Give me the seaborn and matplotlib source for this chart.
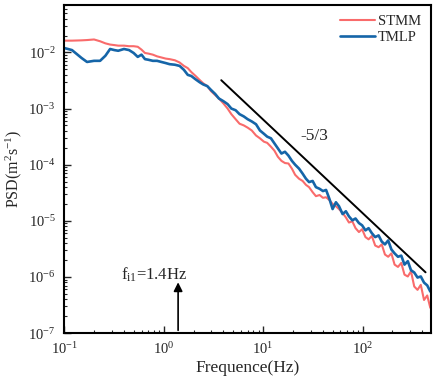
import numpy as np
import pandas as pd
import matplotlib
matplotlib.use('Agg')
import matplotlib.pyplot as plt
import seaborn as sns
from matplotlib.ticker import LogLocator, LogFormatterSciNotation, NullFormatter

# Frequencies (Hz) shared by both spectra
freq = [0.10, 0.12, 0.15, 0.17, 0.20, 0.23, 0.26, 0.29, 0.32, 0.35,
        0.40, 0.45, 0.50, 0.55, 0.60, 0.65, 0.70, 0.78, 0.86, 0.95,
        1.05, 1.15, 1.3, 1.45, 1.6, 1.75, 1.9, 2.1, 2.3, 2.5,
        2.75, 3.0, 3.3, 3.6, 4.0, 4.4, 4.8, 5.3, 5.8, 6.4,
        7.0, 7.7, 8.5, 9.3,
        10.2, 11.0, 12.0, 13.0, 14.1, 15.3, 16.6, 18.0, 19.5, 21,
        23, 25, 27, 29, 31.5, 34, 37, 40, 43, 46.5,
        50, 54, 58, 63, 68, 73, 79, 85, 92, 99,
        107, 115, 124, 134, 145, 156, 168, 181, 195, 210,
        227, 245, 264, 285, 307, 331, 357, 385, 415, 447,
        480]

# PSD of STMM (red)
psd_stmm = [1.62e-2, 1.62e-2, 1.64e-2, 1.66e-2, 1.70e-2, 1.58e-2, 1.45e-2, 1.38e-2, 1.35e-2, 1.32e-2,
            1.32e-2, 1.29e-2, 1.29e-2, 1.26e-2, 1.12e-2, 9.77e-3, 9.55e-3, 9.12e-3, 8.51e-3, 8.13e-3,
            7.76e-3, 7.59e-3, 7.24e-3, 6.61e-3, 5.75e-3, 5.25e-3, 4.47e-3, 3.80e-3, 3.24e-3, 2.82e-3,
            2.51e-3, 2.04e-3, 1.74e-3, 1.51e-3, 1.23e-3, 1.00e-3, 7.94e-4, 6.46e-4, 5.37e-4, 5.01e-4,
            4.57e-4, 4.07e-4, 3.31e-4, 2.95e-4,
            2.57e-4, 2.45e-4, 2.09e-4, 1.78e-4, 1.38e-4, 1.17e-4, 1.07e-4, 1.05e-4, 8.51e-5, 6.61e-5,
            5.62e-5, 5.13e-5, 4.37e-5, 3.98e-5, 3.24e-5, 2.75e-5, 2.88e-5, 2.57e-5, 2.63e-5, 2.34e-5,
            2.00e-5, 1.82e-5, 1.62e-5, 1.38e-5, 1.15e-5, 9.33e-6, 9.77e-6, 7.41e-6, 6.31e-6, 7.08e-6,
            5.13e-6, 4.68e-6, 5.37e-6, 3.63e-6, 3.39e-6, 3.80e-6, 2.51e-6, 2.29e-6, 2.63e-6, 1.66e-6,
            1.51e-6, 1.78e-6, 1.10e-6, 1.02e-6, 1.26e-6, 6.76e-7, 5.89e-7, 7.24e-7, 3.89e-7, 4.68e-7,
            2.82e-7]

# PSD of TMLP (blue)
psd_tmlp = [1.20e-2, 1.10e-2, 7.94e-3, 6.76e-3, 7.08e-3, 7.08e-3, 8.71e-3, 1.15e-2, 1.10e-2, 1.07e-2,
            1.15e-2, 1.10e-2, 9.77e-3, 8.32e-3, 9.12e-3, 7.59e-3, 7.41e-3, 7.08e-3, 7.08e-3, 6.76e-3,
            6.46e-3, 6.17e-3, 6.03e-3, 5.75e-3, 4.90e-3, 3.98e-3, 3.80e-3, 3.31e-3, 2.95e-3, 2.69e-3,
            2.51e-3, 2.14e-3, 1.82e-3, 1.51e-3, 1.35e-3, 1.20e-3, 1.00e-3, 9.33e-4, 7.94e-4, 7.24e-4,
            6.46e-4, 5.89e-4, 5.25e-4, 4.07e-4,
            3.55e-4, 3.16e-4, 2.95e-4, 2.40e-4, 1.95e-4, 1.58e-4, 1.70e-4, 1.45e-4, 1.17e-4, 1.00e-4,
            8.51e-5, 6.92e-5, 5.62e-5, 4.90e-5, 5.13e-5, 3.98e-5, 3.72e-5, 3.39e-5, 3.55e-5, 2.45e-5,
            1.62e-5, 2.14e-5, 1.82e-5, 1.32e-5, 1.48e-5, 1.20e-5, 1.02e-5, 1.10e-5, 9.12e-6, 8.32e-6,
            6.76e-6, 7.41e-6, 6.03e-6, 5.13e-6, 5.50e-6, 4.27e-6, 3.80e-6, 4.47e-6, 3.09e-6, 2.63e-6,
            2.29e-6, 2.40e-6, 1.66e-6, 1.91e-6, 1.32e-6, 1.20e-6, 9.77e-7, 1.02e-6, 7.94e-7, 7.08e-7,
            5.50e-7]

# -5/3 reference line end points
slope_f = [3.8, 430]
slope_psd = [3.2e-3, 1.21e-6]

# first intrinsic frequency marker
f_i1 = 1.4
f_i1_top = 9e-7

sns.set_style('ticks')
plt.rcParams['font.family'] = ['Liberation Serif', 'DejaVu Serif']
plt.rcParams['mathtext.fontset'] = 'custom'
plt.rcParams['mathtext.rm'] = 'Liberation Serif'
plt.rcParams['mathtext.it'] = 'Liberation Serif:italic'
plt.rcParams['mathtext.bf'] = 'Liberation Serif:bold'

fig = plt.figure(figsize=(4.36, 3.82), dpi=100)
ax = fig.add_axes([0.147, 0.128, 0.842, 0.859])

sns.lineplot(x=freq, y=psd_stmm, ax=ax, color='#F96B6B', lw=1.5, label='STMM',
             estimator=None, sort=False)
sns.lineplot(x=freq, y=psd_tmlp, ax=ax, color='#1565A8', lw=1.9, label='TMLP',
             estimator=None, sort=False)
ax.plot(slope_f, slope_psd, color='black', lw=1.4)

ax.set_xscale('log')
ax.set_yscale('log')
ax.set_xlim(0.1, 490)
ax.set_ylim(1e-7, 7e-2)

ax.xaxis.set_major_locator(LogLocator(base=10))
ax.yaxis.set_major_locator(LogLocator(base=10))
ax.xaxis.set_minor_locator(LogLocator(base=10, subs=np.arange(2, 10), numticks=20))
ax.yaxis.set_minor_locator(LogLocator(base=10, subs=np.arange(2, 10), numticks=20))
ax.xaxis.set_major_formatter(LogFormatterSciNotation())
ax.yaxis.set_major_formatter(LogFormatterSciNotation())
ax.xaxis.set_minor_formatter(NullFormatter())
ax.yaxis.set_minor_formatter(NullFormatter())

ax.tick_params(which='major', direction='in', length=5, width=1.0, labelsize=10.5,
               top=False, right=False, pad=6)
ax.tick_params(which='minor', direction='in', length=2.5, width=0.8, top=False, right=False)
for s in ax.spines.values():
    s.set_linewidth(1.5)
    s.set_color('black')

ax.set_xlabel('Frequence(Hz)', fontsize=12.5, labelpad=2)
ax.set_ylabel('PSD(m$^2$s$^{-1}$)', fontsize=11.5, labelpad=3)

ax.text(33, 3.2e-4, '-5/3', fontsize=12.5, ha='center', va='center')
ax.annotate('', xy=(f_i1, f_i1_top), xytext=(f_i1, 1e-7),
            arrowprops=dict(arrowstyle='-|>', color='black', lw=1.2, mutation_scale=13))
ax.text(0.81, 1.1e-6, 'f$_{\\mathrm{i1}}$=1.4Hz', fontsize=12, ha='center', va='center')

ax.legend(loc='upper right', frameon=False, fontsize=10.5, handlelength=2.4,
          handletextpad=0.2, labelspacing=0.15, borderaxespad=0.3)

fig.savefig('out.png', dpi=100)
